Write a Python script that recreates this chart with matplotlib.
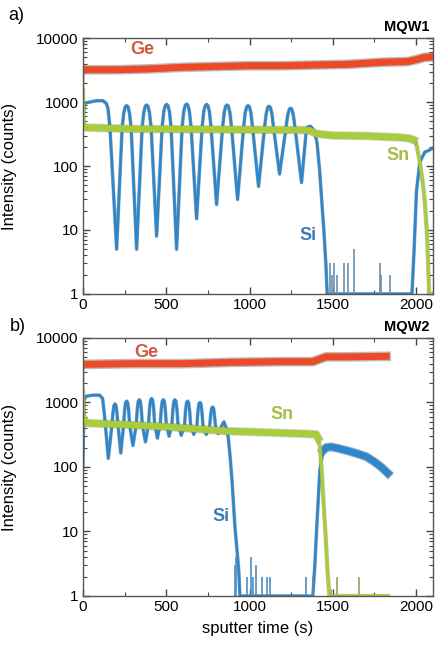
import matplotlib
matplotlib.use("Agg")
import matplotlib.pyplot as plt
from matplotlib.ticker import LogLocator, MultipleLocator, FixedFormatter, FixedLocator

plt.rcParams['font.family'] = ['Liberation Sans', 'DejaVu Sans']

# ---- MQW1 (panel a) ----
ge1_t = [0, 3, 200, 400, 600, 800, 1000, 1200, 1400, 1600, 1800, 1950, 2000, 2050, 2100]
ge1_v = [100, 3200, 3200, 3300, 3500, 3600, 3700, 3700, 3800, 3900, 4200, 4300, 4600, 5000, 5100]

si1_t = [0, 8, 40, 80, 120, 140, 150, 162, 202,
         235, 245, 254, 262, 270, 279, 289, 322,
         355, 365, 374, 382, 390, 399, 409, 442,
         475, 485, 494, 502, 510, 519, 529, 562,
         595, 605, 614, 622, 630, 639, 649, 682,
         715, 725, 734, 742, 750, 759, 769, 802,
         838, 848, 857, 865, 873, 882, 892, 928,
         964, 974, 983, 991, 999, 1008, 1018, 1054,
         1090, 1100, 1109, 1117, 1125, 1134, 1144, 1180,
         1219, 1229, 1238, 1246, 1254, 1263, 1273, 1312,
         1342, 1365, 1380, 1392, 1405, 1420, 1435, 1447, 1458, 1466,
         1975, 1988, 2002, 2022, 2052, 2075, 2100]
si1_v = [600, 950, 1000, 1050, 1050, 950, 800, 400, 5,
         400, 680, 845, 880, 845, 680, 400, 5,
         400, 690, 865, 900, 865, 690, 400, 8,
         400, 710, 880, 920, 880, 710, 400, 5,
         400, 715, 890, 930, 890, 715, 400, 15,
         400, 710, 880, 920, 880, 710, 400, 25,
         400, 690, 865, 900, 865, 690, 400, 30,
         400, 680, 845, 880, 845, 680, 400, 48,
         400, 660, 825, 860, 825, 660, 400, 75,
         400, 620, 770, 800, 770, 620, 400, 55,
         400, 420, 380, 330, 230, 90, 25, 9, 3, 1,
         1, 5, 40, 115, 165, 175, 190]

sn1_t = [0, 5, 300, 700, 1000, 1300, 1360, 1400, 1500, 1700, 1900, 1960, 1985,
         2000, 2022, 2040, 2052, 2066, 2072, 2078, 2100]
sn1_v = [1500, 400, 380, 375, 370, 365, 360, 320, 300, 295, 280, 270, 255,
         230, 117, 55, 28, 8, 3, 1, 1]

spk1_t = [1482, 1494, 1506, 1524, 1568, 1592, 1628, 1782, 1792, 1842]
spk1_v = [3, 2, 3, 2, 3, 3, 5, 3, 2, 2]

# ---- MQW2 (panel b) ----
ge2_t = [0, 3, 300, 600, 900, 1200, 1380, 1420, 1460, 1600, 1820]
ge2_v = [60, 3900, 4000, 4000, 4200, 4300, 4300, 4700, 5100, 5100, 5200]

si2_t = [0, 5, 20, 60, 100, 118, 130, 152,
         174, 180, 186, 192, 198, 204, 210, 227,
         244, 250, 256, 262, 268, 274, 280, 300,
         320, 326, 332, 338, 344, 350, 356, 375,
         394, 400, 406, 412, 418, 424, 430, 447,
         464, 470, 476, 482, 488, 494, 500, 517,
         534, 540, 546, 552, 558, 564, 570, 590,
         610, 616, 622, 628, 634, 640, 646, 665,
         684, 690, 696, 702, 708, 714, 720, 740,
         760, 766, 772, 778, 784, 790, 796, 812,
         830, 846, 860, 872, 885, 895, 912, 925, 935, 942,
         1380, 1392, 1402, 1412, 1422, 1432, 1442, 1460, 1490, 1530,
         1600, 1650, 1700, 1750, 1790, 1830]
si2_v = [100, 1100, 1250, 1300, 1300, 1150, 600, 136,
         450, 690, 900, 950, 900, 690, 450, 165,
         450, 760, 1000, 1050, 1000, 760, 450, 215,
         460, 790, 1045, 1100, 1045, 790, 460, 245,
         470, 830, 1090, 1150, 1090, 830, 470, 280,
         470, 790, 1045, 1100, 1045, 790, 470, 300,
         470, 790, 1045, 1100, 1045, 790, 470, 310,
         460, 760, 1000, 1050, 1000, 760, 460, 320,
         450, 720, 950, 1000, 950, 720, 450, 320,
         420, 610, 810, 850, 810, 610, 420, 330,
         420, 500, 400, 290, 130, 60, 12, 5, 2.5, 1,
         1, 3, 10, 30, 90, 130, 180, 200, 205, 195,
         175, 160, 145, 120, 100, 80]

sn2_t = [0, 5, 20, 200, 500, 860, 1000, 1300, 1400, 1412, 1422, 1432, 1446,
         1458, 1468, 1474, 1480, 1830]
sn2_v = [1500, 550, 480, 460, 420, 360, 350, 330, 320, 280, 206, 95, 24,
         7.4, 2.5, 1.5, 1, 1]

spk2_t = [912, 920, 982, 1006, 1018, 1038, 1072, 1102, 1122, 1338, 1378]
spk2_v = [3, 4, 2, 4, 2, 3, 2, 2, 2, 2, 2]
snspk2_t = [1490, 1522, 1655]
snspk2_v = [1.3, 2, 2]

GE = '#ec4a26'
SI = '#2f86c8'
SN = '#a8cc3a'
EDGE = '#7a7a7a'


def part(t, v, lo, hi):
    # pick the read points inside a time window (for the noisy, thicker stretches)
    sel = [(a, b) for a, b in zip(t, v) if lo <= a <= hi]
    return [a for a, _ in sel], [b for _, b in sel]


def draw(ax, ge, si, sn, si_thick, sn_thick):
    ax.plot(*ge, color=GE, lw=1.2)
    ge_thick = part(*ge, 3, 2100)
    ax.plot(*ge_thick, color=EDGE, lw=7, alpha=0.5)
    ax.plot(*ge_thick, color=GE, lw=5)
    ax.plot(*si, color='#4a6f8f', lw=2.6, alpha=0.55)
    ax.plot(*si, color=SI, lw=1.9)
    if si_thick is not None:
        ax.plot(*si_thick, color='#4a6f8f', lw=6.5, alpha=0.5)
        ax.plot(*si_thick, color=SI, lw=5)
    ax.plot(*sn, color=EDGE, lw=3.2, alpha=0.4)
    ax.plot(*sn, color=SN, lw=2.4)
    ax.plot(*sn_thick, color=EDGE, lw=6, alpha=0.4)
    ax.plot(*sn_thick, color=SN, lw=4.8)


fig = plt.figure(figsize=(4.4, 6.46), dpi=100)
ax1 = fig.add_axes([0.1886, 0.545, 0.795, 0.396])
ax2 = fig.add_axes([0.1886, 0.0774, 0.795, 0.3994])

draw(ax1, (ge1_t, ge1_v), (si1_t, si1_v), (sn1_t, sn1_v),
     None, part(sn1_t, sn1_v, 5, 1985))
ax1.vlines(spk1_t, 1, spk1_v, color='#6a8fae', lw=1.2)

draw(ax2, (ge2_t, ge2_v), (si2_t, si2_v), (sn2_t, sn2_v),
     part(si2_t, si2_v, 1442, 1830), part(sn2_t, sn2_v, 5, 1412))
ax2.vlines(spk2_t, 1, spk2_v, color='#4f8cc0', lw=1.2)
ax2.vlines(snspk2_t, 1, snspk2_v, color='#a3b66a', lw=1.4)

for ax in (ax1, ax2):
    ax.set_yscale('log')
    ax.set_ylim(1, 10000)
    ax.set_xlim(0, 2100)
    ax.yaxis.set_major_locator(FixedLocator([1, 10, 100, 1000, 10000]))
    ax.yaxis.set_major_formatter(FixedFormatter(['1', '10', '100', '1000', '10000']))
    ax.yaxis.set_minor_locator(LogLocator(base=10, subs=range(2, 10)))
    ax.xaxis.set_major_locator(MultipleLocator(500))
    ax.xaxis.set_minor_locator(MultipleLocator(250))
    ax.tick_params(which='both', direction='in', top=True, right=True,
                   color='#444444', labelsize=11, pad=3)
    ax.tick_params(which='major', length=5, width=1)
    ax.tick_params(which='minor', length=3, width=0.8)
    for s in ax.spines.values():
        s.set_color('#555555')
        s.set_linewidth(1)
    ax.set_ylabel('Intensity (counts)', fontsize=12)
    ax.yaxis.set_label_coords(-0.19, 0.5)

ax2.set_xlabel('sputter time (s)', fontsize=12)
ax2.xaxis.set_label_coords(0.5, -0.095)

lbl = dict(fontsize=13, fontweight='bold', ha='center', va='center')
ax1.text(354, 6700, 'Ge', color='#d4553b', **lbl)
ax1.text(1350, 8.3, 'Si', color='#3c7db6', **lbl)
ax1.text(1890, 148, 'Sn', color='#a3bf4a', **lbl)
ax2.text(378, 6050, 'Ge', color='#d4553b', **lbl)
ax2.text(1192, 640, 'Sn', color='#a3bf4a', **lbl)
ax2.text(828, 17, 'Si', color='#3c7db6', **lbl)

ax1.text(0.99, 1.015, 'MQW1', transform=ax1.transAxes, ha='right', va='bottom',
         fontsize=10.5, fontweight='bold')
ax2.text(0.99, 1.015, 'MQW2', transform=ax2.transAxes, ha='right', va='bottom',
         fontsize=10.5, fontweight='bold')

fig.text(8 / 440, 1 - 16 / 646, 'a)', fontsize=13, va='center')
fig.text(10 / 440, 1 - 326 / 646, 'b)', fontsize=13, va='center')

fig.savefig('out.png', dpi=100)
plt.close(fig)
